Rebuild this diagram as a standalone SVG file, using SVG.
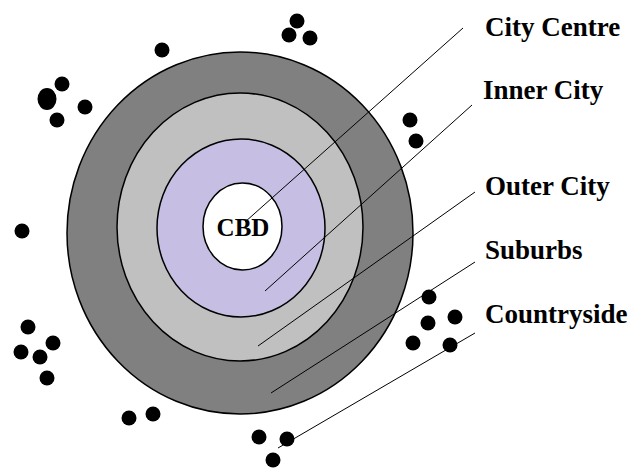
<svg xmlns="http://www.w3.org/2000/svg" width="629" height="469" viewBox="0 0 629 469">
  <style>
    .zone { stroke: #000; stroke-width: 1.5; }
    .label { font-family: "Liberation Serif", "Times New Roman", serif; font-weight: bold; font-size: 27px; fill: #000; }
    .cbd-text { font-family: "Liberation Serif", "Times New Roman", serif; font-weight: bold; font-size: 25px; fill: #000; }
    .leader { stroke: #000; stroke-width: 1; fill: none; }
    .dot { fill: #000; }
  </style>

  <!-- concentric urban zones -->
  <g id="countryside-ring">
    <ellipse class="zone" cx="240" cy="233" rx="173" ry="181" fill="#808080"/>
  </g>
  <g id="suburbs-ring">
    <ellipse class="zone" cx="240" cy="227" rx="123" ry="134" fill="#c0c0c0"/>
  </g>
  <g id="outer-city-ring">
    <ellipse class="zone" cx="241" cy="228" rx="84" ry="89" fill="#c6bfe3"/>
  </g>
  <g id="cbd">
    <ellipse class="zone" cx="242.5" cy="226.5" rx="39.5" ry="43.5" fill="#ffffff"/>
    <text class="cbd-text" x="243" y="236" text-anchor="middle">CBD</text>
  </g>

  <!-- settlements scattered in the countryside -->
  <g id="settlements">
    <circle class="dot" cx="162" cy="50" r="7.5"/>
    <circle class="dot" cx="297" cy="21" r="7.5"/>
    <circle class="dot" cx="289" cy="35" r="7.5"/>
    <circle class="dot" cx="310" cy="38" r="7.5"/>
    <circle class="dot" cx="62" cy="84" r="7.5"/>
    <ellipse class="dot" cx="47" cy="99" rx="9.5" ry="11"/>
    <circle class="dot" cx="85" cy="107" r="7.5"/>
    <circle class="dot" cx="57" cy="120" r="7.5"/>
    <circle class="dot" cx="410" cy="120" r="7.5"/>
    <circle class="dot" cx="416" cy="141" r="7.5"/>
    <circle class="dot" cx="22" cy="231" r="7.5"/>
    <circle class="dot" cx="28" cy="327" r="7.5"/>
    <circle class="dot" cx="53" cy="343" r="7.5"/>
    <circle class="dot" cx="21" cy="352" r="7.5"/>
    <circle class="dot" cx="40" cy="357" r="7.5"/>
    <circle class="dot" cx="47" cy="378" r="7.5"/>
    <circle class="dot" cx="129" cy="418" r="7.5"/>
    <circle class="dot" cx="153" cy="414" r="7.5"/>
    <circle class="dot" cx="429" cy="297" r="7.5"/>
    <circle class="dot" cx="428" cy="323" r="7.5"/>
    <circle class="dot" cx="455" cy="317" r="7.5"/>
    <circle class="dot" cx="413" cy="343" r="7.5"/>
    <circle class="dot" cx="450" cy="345" r="7.5"/>
    <circle class="dot" cx="259" cy="437" r="7.5"/>
    <circle class="dot" cx="287" cy="439" r="7.5"/>
    <circle class="dot" cx="273" cy="460" r="7.5"/>
  </g>

  <!-- leader lines from labels into each zone -->
  <g id="connectors">
    <line class="leader" x1="463" y1="28" x2="245" y2="222"/>
    <line class="leader" x1="472" y1="105" x2="265" y2="291"/>
    <line class="leader" x1="475" y1="192" x2="258" y2="346"/>
    <line class="leader" x1="475" y1="262" x2="271" y2="393"/>
    <line class="leader" x1="475" y1="333" x2="278" y2="448"/>
  </g>

  <!-- zone labels -->
  <g id="label-city-centre"><text class="label" x="485" y="36">City Centre</text></g>
  <g id="label-inner-city"><text class="label" x="483" y="99">Inner City</text></g>
  <g id="label-outer-city"><text class="label" x="485" y="195">Outer City</text></g>
  <g id="label-suburbs"><text class="label" x="485" y="259">Suburbs</text></g>
  <g id="label-countryside"><text class="label" x="485" y="323">Countryside</text></g>
</svg>
